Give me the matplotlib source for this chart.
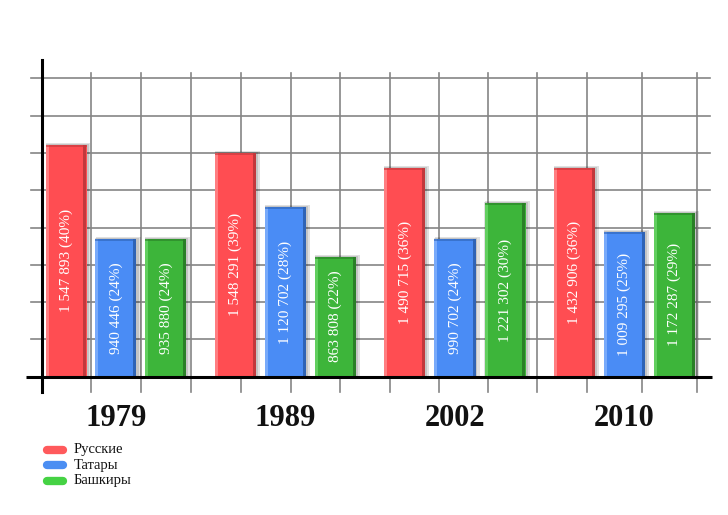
import numpy as np
import matplotlib.pyplot as plt

# данные (высоты столбцов, в клетках сетки)
years = ["1979", "1989", "2002", "2010"]
groups = ["Русские", "Татары", "Башкиры"]
heights_rus = [6.21, 6.01, 5.60, 5.60]
heights_tat = [3.68, 4.54, 3.69, 3.89]
heights_bash = [3.68, 3.22, 4.65, 4.40]
labels_rus = ["1 547 893 (40%)", "1 548 291 (39%)", "1 490 715 (36%)", "1 432 906 (36%)"]
labels_tat = ["940 446 (24%)", "1 120 702 (28%)", "990 702 (24%)", "1 009 295 (25%)"]
labels_bash = ["935 880 (24%)", "863 808 (22%)", "1 221 302 (30%)", "1 172 287 (29%)"]

# пиксели -> координаты осей
X0, SX, Y0, SY = 116, 169.5, 376.7, 37.3
def px_x(p):
    return (p - X0) / SX
def px_y(p):
    return (Y0 - p) / SY

FONT = "Liberation Serif"

fig = plt.figure(figsize=(7.28, 5.15), dpi=100)
ax = fig.add_axes([0, 0, 1, 1])
ax.set_xlim(px_x(0), px_x(728))
ax.set_ylim(px_y(515), px_y(0))
ax.axis("off")

# сетка
grid_col = "#858585"
for k in range(1, 9):
    ax.plot([px_x(31), px_x(710)], [k, k], color=grid_col, lw=1.2, zorder=1)
for p in [91, 141, 191, 241, 291, 340, 390, 439, 488, 537, 587, 642, 697]:
    ax.plot([px_x(p), px_x(p)], [px_y(392), px_y(73)], color=grid_col, lw=1.2, zorder=1)

# оси
ax.plot([px_x(26), px_x(712)], [0, 0], color="black", lw=2.2, zorder=6, solid_capstyle="butt")
ax.plot([px_x(42), px_x(42)], [px_y(392), px_y(60)], color="black", lw=2.2, zorder=6)

x = np.arange(len(years))
off = 50 / SX
w = 41 / SX
strip = 3 / SX

series = [
    (heights_rus, labels_rus, "#ff4d52", "#c2383c", "#ff7e81", -off),
    (heights_tat, labels_tat, "#4a8cf5", "#2f63b5", "#78aafa", 0),
    (heights_bash, labels_bash, "#3db53a", "#2a7f27", "#62cf5f", off),
]

for h, labs, col, dark, light, dx in series:
    xc = x + dx
    h = np.array(h)
    # тень
    ax.bar(xc + 2 / SX, h + 2 / SY, width=w + 4 / SX, color="black", alpha=0.12, zorder=2)
    ax.bar(xc + 1 / SX, h + 1 / SY, width=w + 2 / SX, color="black", alpha=0.12, zorder=2)
    ax.bar(xc, h, width=w, color=col, zorder=3)
    ax.bar(xc - w / 2 + strip / 2, h, width=strip, color=light, zorder=3)
    ax.bar(xc + w / 2 - strip / 2, h, width=strip, color=dark, zorder=3)
    ax.bar(xc, 2 / SY, bottom=h - 2 / SY, width=w, color=dark, alpha=0.6, zorder=3)
    for xi, hi, lab in zip(xc, h, labs):
        ax.text(xi, hi / 2, lab, rotation=90, ha="center", va="center",
                color="white", fontsize=11, family=FONT, zorder=5)

# подписи годов
for xi, yr in zip(x, years):
    ax.text(xi, px_y(418), yr, ha="center", va="center", fontsize=22,
            fontweight="bold", family=FONT, color="#111111")

# легенда
leg_cols = ["#ff5a5c", "#4b8ef2", "#45d244"]
for i, (name, c) in enumerate(zip(groups, leg_cols)):
    yy = px_y(450 + 15.3 * i)
    ax.plot([px_x(47), px_x(63)], [yy, yy], color=c, lw=6, solid_capstyle="round")
    ax.text(px_x(74), yy, name, ha="left", va="center", fontsize=10.5,
            family=FONT, color="#111111")

fig.savefig("out.png", dpi=100)
